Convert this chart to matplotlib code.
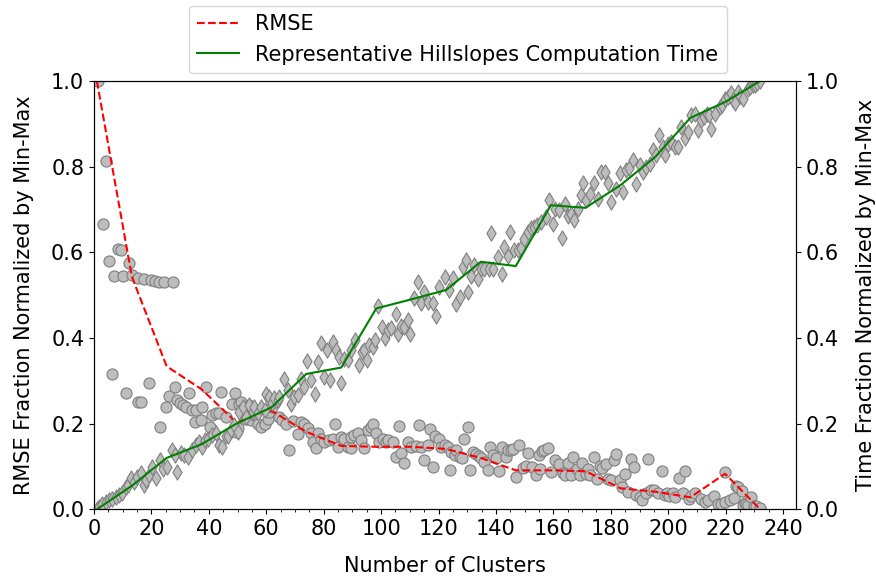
import numpy as np
import matplotlib
matplotlib.use("Agg")
import matplotlib.pyplot as plt
from matplotlib.ticker import AutoMinorLocator

# RMSE scatter (circles)
rmse_x = [1.5, 3.2, 4.2, 5.1, 7.1, 8.2, 9.4, 10.2, 12.1, 13.2, 15.2, 17.5, 19.9, 21.3, 22.8, 24.3, 27.4,
          6.2, 11.2, 15.2, 16.4, 19.2, 23.1, 25.2, 26.1, 28.2, 29.0, 29.9, 31.0, 32.2, 33.1, 34.0, 35.4,
          35.2, 37.2, 37.7, 39.1, 40.3, 41.2, 42.4, 43.5, 44.1, 45.9, 48.2, 49.1,
          49.5, 50.0, 50.4, 51.2, 52.4, 53.0, 54.1, 54.7, 55.9, 57.0, 58.2, 59.4, 60.5, 61.1, 62.0, 63.2,
          64.6, 65.5, 66.9, 68.0, 69.2, 70.9, 72.1, 73.3, 74.4, 75.6, 76.2, 77.3, 77.9, 79.1, 80.2, 82.0,
          83.2, 84.1, 84.9, 86.1, 87.2, 88.4, 89.6, 89.6, 90.7, 91.9, 93.0, 94.2, 95.3, 96.5, 97.1, 98.2,
          99.4, 100.6, 101.7, 102.3, 104.1, 105.2, 106.2, 107.0, 108.1, 109.3, 110.5, 112.2, 113.1, 113.9,
          115.1, 116.2, 117.1, 118.0, 118.9, 120.1, 121.0, 122.1, 123.2, 124.1, 124.4, 125.6, 126.1, 127.3,
          128.2, 129.0, 130.2, 131.0, 131.9, 133.1, 134.0, 134.8, 136.0, 137.1, 138.0, 138.9, 139.9, 141.0,
          142.1, 143.5, 144.1, 145.3, 145.8, 147.0, 147.9, 149.3, 150.4, 151.0, 152.7, 153.9, 155.3, 154.9,
          156.1, 156.9, 158.1, 159.2, 160.4, 161.9, 163.3, 164.2, 165.1, 166.2, 167.0, 168.2, 169.1, 170.0,
          171.2, 172.0, 172.8, 174.0, 175.1, 176.1, 177.0, 178.2, 179.0, 180.2, 181.0, 181.9, 183.1, 184.0,
          184.9, 186.0, 187.1, 187.9, 188.8, 190.2, 190.9, 192.3, 193.0, 194.0, 195.2, 196.3, 197.9, 198.7,
          199.5, 200.4, 201.6, 202.5, 203.9, 205.0, 206.0, 207.2, 208.0, 209.2, 211.5, 212.7, 213.8, 215.9,
          217.3, 218.5, 219.6, 219.9, 221.4, 222.9, 223.7, 224.3, 225.6, 226.0, 226.6, 227.2, 227.7, 228.9,
          230.0, 230.4, 231.9]
rmse_y = [1.0, 0.667, 0.813, 0.580, 0.545, 0.607, 0.606, 0.545, 0.575, 0.547, 0.539, 0.537, 0.535, 0.533,
          0.531, 0.531, 0.531,
          0.317, 0.271, 0.250, 0.250, 0.296, 0.191, 0.239, 0.264, 0.286, 0.255, 0.249, 0.243, 0.239, 0.272,
          0.233, 0.232, 0.204, 0.209, 0.239, 0.286, 0.193, 0.220, 0.224, 0.226, 0.273, 0.216, 0.247, 0.272,
          0.181, 0.189, 0.247, 0.251, 0.236, 0.212, 0.243, 0.208, 0.220, 0.200, 0.193, 0.200, 0.212, 0.227,
          0.239, 0.251, 0.216, 0.208, 0.200, 0.138, 0.207, 0.176, 0.205, 0.200, 0.189, 0.179, 0.158, 0.142,
          0.177, 0.165, 0.158, 0.162, 0.165, 0.200, 0.146, 0.169, 0.165, 0.146, 0.142, 0.169, 0.173, 0.177,
          0.162, 0.142, 0.185, 0.193, 0.200, 0.177, 0.158, 0.165, 0.158, 0.162, 0.156, 0.123, 0.194, 0.132,
          0.109, 0.156, 0.145, 0.148, 0.197, 0.145, 0.115, 0.150, 0.187, 0.098, 0.170, 0.163, 0.146, 0.150,
          0.146, 0.092, 0.134, 0.127, 0.138, 0.121, 0.119, 0.164, 0.191, 0.092, 0.134, 0.130, 0.124, 0.119,
          0.111, 0.092, 0.146, 0.127, 0.119, 0.090, 0.146, 0.123, 0.138, 0.139, 0.141, 0.076, 0.149, 0.096,
          0.100, 0.132, 0.098, 0.080, 0.093, 0.127, 0.135, 0.138, 0.144, 0.088, 0.116, 0.106, 0.084, 0.080,
          0.109, 0.080, 0.121, 0.093, 0.080, 0.107, 0.082, 0.093, 0.080, 0.121, 0.070, 0.101, 0.096, 0.106,
          0.070, 0.068, 0.115, 0.130, 0.068, 0.051, 0.082, 0.041, 0.117, 0.098, 0.033, 0.028, 0.022, 0.039,
          0.117, 0.045, 0.044, 0.037, 0.090, 0.033, 0.039, 0.031, 0.037, 0.028, 0.072, 0.037, 0.090, 0.023,
          0.031, 0.037, 0.024, 0.017, 0.021, 0.030, 0.013, 0.013, 0.017, 0.086, 0.021, 0.027, 0.055, 0.053,
          0.042, 0.007, 0.015, 0.013, 0.011, 0.028, 0.008, 0.008, 0.003]

# computation time scatter (diamonds)
time_x = [1.0, 1.7, 2.9, 4.1, 5.2, 6.4, 7.5, 8.7, 9.9, 11.0, 12.0, 12.8, 13.9, 15.1, 16.3, 17.4, 18.0,
          19.2, 20.3, 21.5, 22.9, 24.0, 25.6, 27.1, 28.2, 29.0, 30.2, 31.4, 32.9, 34.3, 35.4, 36.6, 37.5,
          38.7, 39.8, 41.2, 42.4, 43.5, 44.5, 45.9, 46.8, 47.6, 48.8, 50.0,
          50.6, 51.8, 52.9, 54.1, 55.3, 55.9, 57.0, 58.2, 59.4, 59.9, 61.1, 62.0, 62.8, 64.0, 64.6, 66.3,
          67.5, 68.6, 69.8, 70.9, 72.1, 73.3, 74.1, 75.6, 77.1, 77.9, 79.1, 80.2, 81.1, 82.2, 83.2, 84.3,
          85.5, 86.1, 87.2, 88.4, 89.6, 91.0, 92.2, 93.4, 94.2, 95.0, 95.9, 97.1, 98.0,
          99.0, 100.2, 101.4, 102.3, 103.5, 105.2, 106.0, 106.9, 108.1, 109.3, 109.9, 111.4, 113.0, 113.9,
          115.1, 116.3, 118.0,
          119.2, 120.3, 122.1, 123.8, 125.0, 126.1, 127.3, 128.5, 129.6, 130.2, 131.3, 132.5, 133.7, 134.8,
          136.0, 137.7, 138.1, 138.9, 140.6, 142.0, 142.9, 144.1, 145.0, 146.2, 147.6, 148.8, 149.9, 151.1,
          152.3, 153.4, 154.3, 155.7, 157.5, 158.6, 159.8, 160.6, 162.1, 163.0, 163.9, 165.0, 166.0, 167.1,
          168.5, 169.5, 170.3, 171.4, 172.9, 174.1, 175.5,
          176.7, 177.8, 179.0, 180.1, 181.9, 183.1, 184.4, 185.4, 186.5, 187.7, 188.8, 190.0, 191.1, 192.3,
          193.5, 194.6, 195.8, 196.9, 198.1, 199.0, 199.8, 201.0, 202.2, 203.3, 204.5, 205.7, 206.8, 208.0,
          209.2, 210.3, 211.5, 212.5, 213.6, 214.2, 215.0, 216.4, 217.9, 218.8, 219.6, 220.8, 221.9, 222.5,
          223.1, 224.2, 225.0, 226.0, 227.7, 228.5, 229.5, 230.2, 231.0, 232.0]
time_y = [0.0, 0.006, 0.012, 0.018, 0.022, 0.025, 0.028, 0.033, 0.039, 0.053, 0.057, 0.072, 0.064, 0.076,
          0.084, 0.057, 0.068, 0.080, 0.099, 0.072, 0.115, 0.095, 0.099, 0.138, 0.127, 0.088, 0.131, 0.127,
          0.121, 0.138, 0.150, 0.158, 0.145, 0.162, 0.165, 0.173, 0.177, 0.150, 0.145, 0.171, 0.170, 0.185,
          0.197, 0.181,
          0.228, 0.240, 0.216, 0.243, 0.228, 0.240, 0.224, 0.240, 0.232, 0.270, 0.262, 0.249, 0.259, 0.255,
          0.262, 0.305, 0.278, 0.247, 0.262, 0.266, 0.305, 0.286, 0.347, 0.302, 0.269, 0.345, 0.389, 0.309,
          0.372, 0.302, 0.391, 0.372, 0.356, 0.294, 0.352, 0.348, 0.372, 0.395, 0.337, 0.368, 0.372, 0.348,
          0.383, 0.379, 0.395,
          0.474, 0.426, 0.401, 0.418, 0.424, 0.457, 0.410, 0.428, 0.426, 0.442, 0.410, 0.494, 0.531, 0.481,
          0.508, 0.485, 0.482,
          0.451, 0.519, 0.543, 0.513, 0.541, 0.479, 0.496, 0.566, 0.582, 0.508, 0.544, 0.570, 0.537, 0.562,
          0.562, 0.562, 0.644, 0.562, 0.589, 0.550, 0.613, 0.591, 0.648, 0.605, 0.605, 0.611, 0.630, 0.648,
          0.656, 0.660, 0.664, 0.671, 0.683, 0.722, 0.667, 0.702, 0.700, 0.634, 0.712, 0.686, 0.690, 0.675,
          0.702, 0.733, 0.761, 0.722, 0.737, 0.761, 0.725,
          0.788, 0.788, 0.762, 0.718, 0.747, 0.786, 0.741, 0.792, 0.796, 0.815, 0.760, 0.803, 0.788, 0.799,
          0.807, 0.840, 0.827, 0.873, 0.846, 0.827, 0.854, 0.858, 0.846, 0.847, 0.893, 0.866, 0.881, 0.920,
          0.924, 0.885, 0.908, 0.915, 0.924, 0.920, 0.887, 0.924, 0.939, 0.945, 0.959, 0.963, 0.971, 0.955,
          0.948, 0.975, 0.965, 0.959, 0.982, 0.985, 0.990, 0.990, 0.995, 1.0]

# line vertices
line_x = [1, 13.2, 25.3, 37.5, 49.6, 61.8, 73.9, 86.1, 98.3, 110.4, 122.6, 134.7, 146.9, 159.1,
          171.2, 183.4, 195.5, 207.7, 219.8, 232]
rmse_line = [1.0, 0.543, 0.334, 0.28, 0.203, 0.230, 0.181, 0.148, 0.146, 0.146, 0.141, 0.120, 0.091,
             0.091, 0.089, 0.049, 0.041, 0.028, 0.083, 0.0]
time_line = [0.0, 0.055, 0.12, 0.152, 0.20, 0.238, 0.316, 0.331, 0.469, 0.490, 0.512, 0.578, 0.568,
             0.710, 0.704, 0.757, 0.823, 0.914, 0.951, 1.0]

fs = 15

fig = plt.figure(figsize=(8.76, 5.8), dpi=100)
ax = fig.add_axes([0.1073, 0.1219, 0.8014, 0.7384])
ax2 = ax.twinx()

ax.scatter(rmse_x, rmse_y, marker="o", s=64, facecolor="#bdbdbd", edgecolor="#7f7f7f", linewidth=0.8)
l1, = ax.plot(line_x, rmse_line, "r--", lw=1.5, label="RMSE")

ax2.scatter(time_x, time_y, marker="d", s=60, facecolor="#bdbdbd", edgecolor="#7f7f7f", linewidth=0.8)
l2, = ax2.plot(line_x, time_line, "g-", lw=1.5, label="Representative Hillslopes Computation Time")

ax.set_xlim(0, 244.5)
ax.set_ylim(0, 1)
ax2.set_ylim(0, 1)
ax.set_xticks(np.arange(0, 241, 20))
ax.xaxis.set_minor_locator(AutoMinorLocator())
ax.tick_params(labelsize=fs)
ax2.tick_params(labelsize=fs)

ax.set_xlabel("Number of Clusters", fontsize=fs, labelpad=12)
ax.set_ylabel("RMSE Fraction Normalized by Min-Max", fontsize=fs, labelpad=12)
ax2.set_ylabel("Time Fraction Normalized by Min-Max", fontsize=fs, labelpad=12)

ax.legend(handles=[l1, l2], fontsize=fs, loc="upper center", bbox_to_anchor=(0.518, 1.2))

fig.savefig("out.png", dpi=100)
